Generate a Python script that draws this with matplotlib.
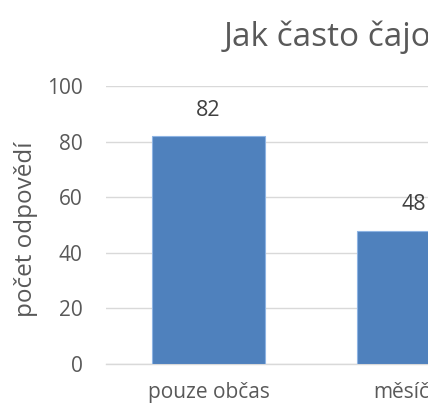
import matplotlib
matplotlib.use("Agg")
import matplotlib.pyplot as plt

categories = ["pouze občas", "měsíčně"]
values = [82, 48]
title = "Jak často čajovnu navštěvujete?"
ylabel = "počet odpovědí"
yticks = [0, 20, 40, 60, 80, 100]

plt.rcParams['font.family'] = ['Open Sans', 'DejaVu Sans']

W, H = 428, 405
fig = plt.figure(figsize=(W / 100, H / 100), dpi=100)

left_px, right_px = 106, 106 + 205 * len(categories)
top_px, bot_px = 86, 364
ax = fig.add_axes([left_px / W, (H - bot_px) / H,
                   (right_px - left_px) / W, (bot_px - top_px) / H])

x = list(range(len(categories)))
ax.bar(x, values, width=0.55, color="#4F81BD", edgecolor="#8EB4E3",
       linewidth=0.8, zorder=3)
for xi, v in zip(x, values):
    ax.annotate(str(v), (xi, v), xytext=(0, 11), textcoords="offset points",
                ha="center", va="bottom", fontsize=15.5, color="#404040",
                annotation_clip=False)

ax.set_xlim(-0.5, len(categories) - 0.5)
ax.set_ylim(0, 100)
ax.set_yticks(yticks)
ax.set_xticks(x)
ax.set_xticklabels(categories)
ax.grid(axis="y", color="#D9D9D9", linewidth=1.0, zorder=0)
ax.set_axisbelow(True)
for s in ["top", "right", "left"]:
    ax.spines[s].set_visible(False)
ax.spines["bottom"].set_color("#D9D9D9")
ax.spines["bottom"].set_linewidth(1.0)
ax.tick_params(axis="y", length=0, pad=17, labelsize=15, labelcolor="#595959")
ax.tick_params(axis="x", length=0, pad=13, labelsize=15, labelcolor="#595959")

fig.text(26 / W, (H - 229) / H, ylabel, rotation=90, ha="center", va="center",
         fontsize=17.5, color="#595959")
fig.text(224 / W, (H - 37) / H, title, ha="left", va="center",
         fontsize=24, color="#595959")

fig.savefig("out.png", dpi=100)
